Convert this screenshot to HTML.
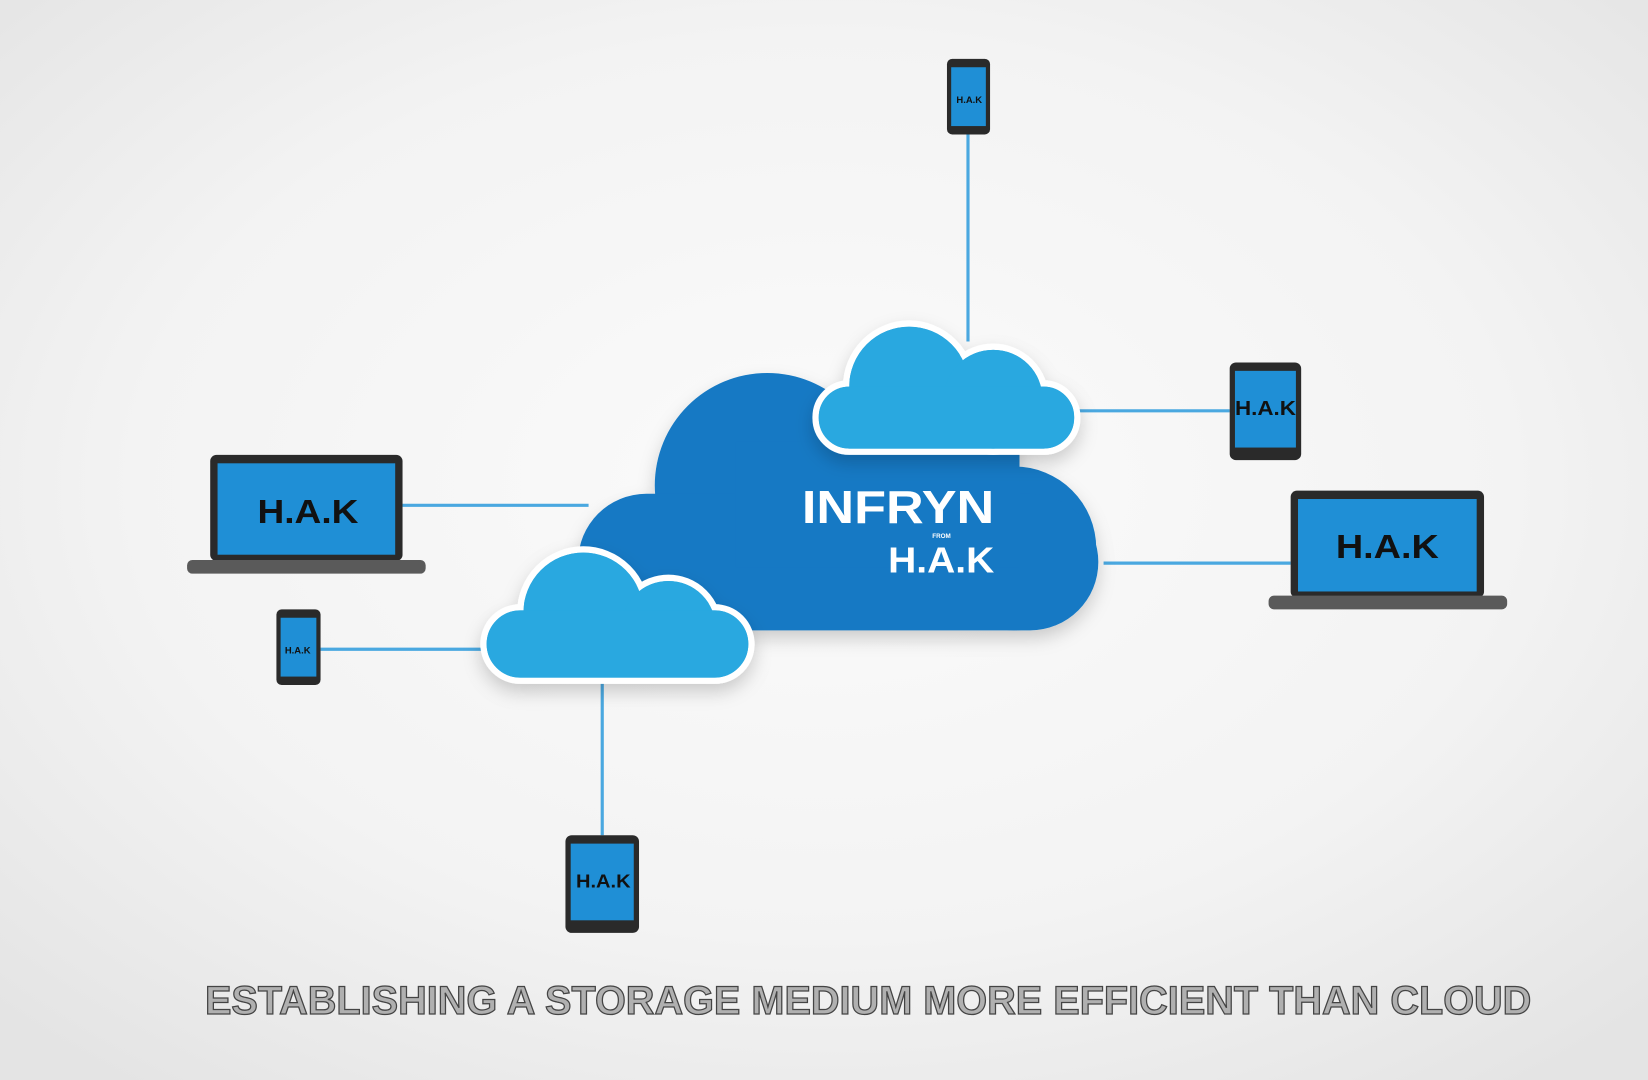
<!DOCTYPE html>
<html><head><meta charset="utf-8"><style>
html,body{margin:0;padding:0;width:1648px;height:1080px;overflow:hidden;background:#f2f2f2}
svg{display:block}
text{font-family:"Liberation Sans",sans-serif;font-weight:bold}
</style></head><body>
<svg width="1648" height="1080" viewBox="0 0 1568 1028" preserveAspectRatio="none" xmlns="http://www.w3.org/2000/svg">
<defs>
<radialGradient id="bg" cx="50%" cy="45%" r="70%">
<stop offset="0" stop-color="#fbfbfb"/><stop offset="0.6" stop-color="#f3f3f3"/><stop offset="1" stop-color="#e4e4e4"/>
</radialGradient>
<filter id="sh" x="-20%" y="-20%" width="140%" height="160%"><feDropShadow dx="0" dy="8" stdDeviation="8" flood-color="#000" flood-opacity="0.18"/></filter>
</defs>
<rect width="1568" height="1028" fill="url(#bg)"/>
<g stroke="#4aa8e0" stroke-width="3">
<line x1="921" y1="128" x2="921" y2="325"/>
<line x1="1025" y1="391" x2="1170" y2="391"/>
<line x1="1050" y1="536" x2="1228" y2="536"/>
<line x1="383" y1="481" x2="560" y2="481"/>
<line x1="305" y1="618" x2="462" y2="618"/>
<line x1="573" y1="645" x2="573" y2="795"/>
</g>
<g fill="#1479c4" filter="url(#sh)">
<circle cx="730" cy="462" r="107"/>
<circle cx="965" cy="522" r="78"/>
<rect x="550" y="470" width="495" height="130" rx="65"/>
<rect x="700" y="420" width="270" height="120"/>
</g>
<g fill="#29a8e0" stroke="#fff" stroke-width="6" filter="url(#sh)">
<circle cx="865" cy="368" r="60"/><circle cx="945" cy="380" r="50"/>
<rect x="776" y="365" width="249" height="65" rx="32"/>
</g>
<g fill="#29a8e0"><circle cx="865" cy="368" r="57"/><circle cx="945" cy="380" r="47"/><rect x="779" y="368" width="243" height="59" rx="29"/></g>
<g fill="#29a8e0" stroke="#fff" stroke-width="6" filter="url(#sh)">
<circle cx="555" cy="583" r="60"/><circle cx="636" cy="598" r="48"/>
<rect x="460" y="578" width="255" height="70" rx="35"/>
</g>
<g fill="#29a8e0"><circle cx="555" cy="583" r="57"/><circle cx="636" cy="598" r="45"/><rect x="463" y="581" width="249" height="64" rx="32"/></g>
<text x="763" y="498" font-size="44" fill="#fff" textLength="183" lengthAdjust="spacingAndGlyphs">INFRYN</text>
<text x="887" y="512" font-size="6" fill="#fff" font-weight="normal">FROM</text>
<text x="845" y="545" font-size="34" fill="#fff" textLength="101" lengthAdjust="spacingAndGlyphs">H.A.K</text>
<rect x="901" y="56" width="41" height="72" rx="5" fill="#2a2a2a"/>
<rect x="905" y="64" width="33" height="56" fill="#1f8fd6"/>
<text x="910" y="98" font-size="9" fill="#111">H.A.K</text>
<rect x="263" y="580" width="42" height="72" rx="5" fill="#2a2a2a"/>
<rect x="267" y="588" width="34" height="56" fill="#1f8fd6"/>
<text x="271" y="622" font-size="9" fill="#111">H.A.K</text>
<rect x="1170" y="345" width="68" height="93" rx="6" fill="#2a2a2a"/>
<rect x="1175" y="353" width="58" height="73" fill="#1f8fd6"/>
<text x="1175" y="395" font-size="19" fill="#111" textLength="58" lengthAdjust="spacingAndGlyphs">H.A.K</text>
<rect x="538" y="795" width="70" height="93" rx="6" fill="#2a2a2a"/>
<rect x="543" y="803" width="60" height="73" fill="#1f8fd6"/>
<text x="548" y="845" font-size="18" fill="#111" textLength="52" lengthAdjust="spacingAndGlyphs">H.A.K</text>
<rect x="200" y="433" width="183" height="101" rx="6" fill="#2a2a2a"/>
<rect x="207" y="441" width="169" height="87" fill="#1f8fd6"/>
<text x="245" y="498" font-size="32" fill="#111" textLength="96" lengthAdjust="spacingAndGlyphs">H.A.K</text>
<rect x="178" y="533" width="227" height="13" rx="5" fill="#5a5a5a"/>
<rect x="1228" y="467" width="184" height="102" rx="6" fill="#2a2a2a"/>
<rect x="1235" y="475" width="170" height="88" fill="#1f8fd6"/>
<text x="1271" y="531" font-size="32" fill="#111" textLength="98" lengthAdjust="spacingAndGlyphs">H.A.K</text>
<rect x="1207" y="567" width="227" height="13" rx="5" fill="#5a5a5a"/>
<text x="195" y="965" font-size="38" fill="#b0b0b0" stroke="#444" stroke-width="1.2" textLength="1262" lengthAdjust="spacingAndGlyphs">ESTABLISHING A STORAGE MEDIUM MORE EFFICIENT THAN CLOUD</text>
</svg>
</body></html>
